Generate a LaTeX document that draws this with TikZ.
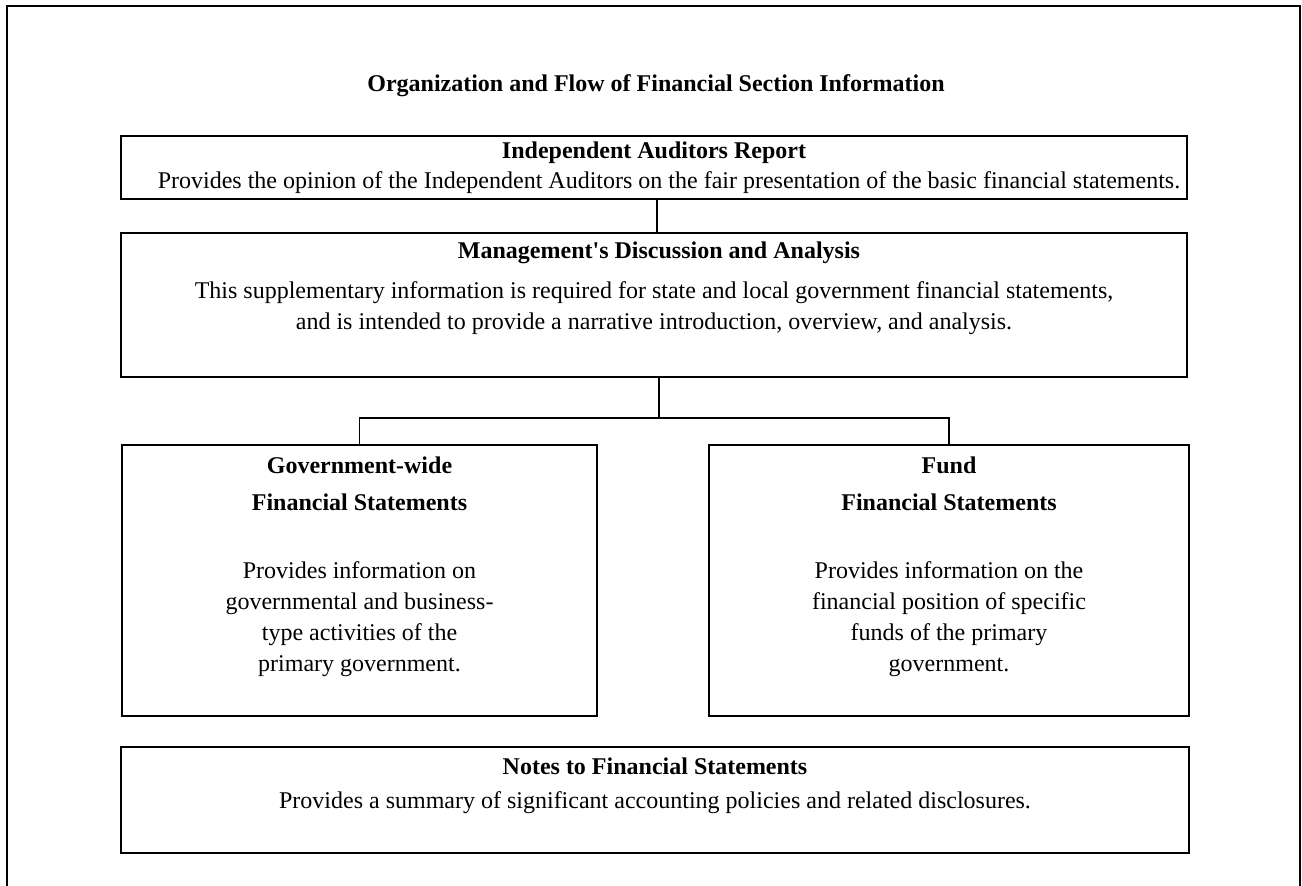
\documentclass[tikz,border=0pt]{standalone}
\usepackage{fontspec}
\setmainfont{Liberation Serif}
\begin{document}
\begin{tikzpicture}[x=0.5pt, y=-0.5pt, line width=0.9pt,
    box/.style={draw, line width=0.9pt, inner sep=0pt},
    head/.style={font=\bfseries\fontsize{12}{18.5}\selectfont, align=center, inner sep=0pt},
    body/.style={font=\fontsize{12}{15.5}\selectfont, align=center, inner sep=0pt}]
    \useasboundingbox (0,0) rectangle (1302,886);

    % 外枠
    \draw (7,886) -- (7,6) -- (1300,6) -- (1300,886);
    \node[head] (title) at (656,86) {Organization and Flow of Financial Section Information};

    % 監査報告
    \node[box, minimum width=533pt, minimum height=31.5pt] (audit) at (654,167.5) {};
    \node[head] (auditT) at (654,153) {Independent Auditors Report};
    \node[body] (auditB) at (669,183) {Provides the opinion of the Independent Auditors on the fair presentation of the basic financial statements.};

    % MD\&A
    \node[box, minimum width=533pt, minimum height=72pt] (mda) at (654,305) {};
    \node[head] (mdaT) at (659,253) {Management\textquotesingle s Discussion and Analysis};
    \node[body] (mdaB) at (654,308) {This supplementary information is required for state and local government financial statements,\\
      and is intended to provide a narrative introduction, overview, and analysis.};

    % 財務諸表 (左右)
    \node[box, minimum width=237.5pt, minimum height=135.5pt] (gov) at (359.5,580.5) {};
    \node[head] (govT) at (359.5,483.5) {Government-wide\\Financial Statements};
    \node[body] (govB) at (359.5,619.5) {Provides information on\\governmental and business-\\type activities of the\\primary government.};
    \node[box, minimum width=240pt, minimum height=135.5pt] (fund) at (949,580.5) {};
    \node[head] (fundT) at (949,483.5) {Fund\\Financial Statements};
    \node[body] (fundB) at (949,619.5) {Provides information on the\\financial position of specific\\funds of the primary\\government.};

    % 注記
    \node[box, minimum width=534pt, minimum height=53pt] (notes) at (655,800) {};
    \node[head] (notesT) at (655,766) {Notes to Financial Statements};
    \node[body] (notesB) at (655,803) {Provides a summary of significant accounting policies and related disclosures.};

    % 接続線
    \coordinate (split) at (659,418);
    \draw ([xshift=1.5pt]audit.south) -- ([xshift=1.5pt]mda.north);
    \draw ([xshift=2.5pt]mda.south) -- (split);
    \draw (gov.north) |- (split) -| (fund.north);
\end{tikzpicture}
\end{document}
